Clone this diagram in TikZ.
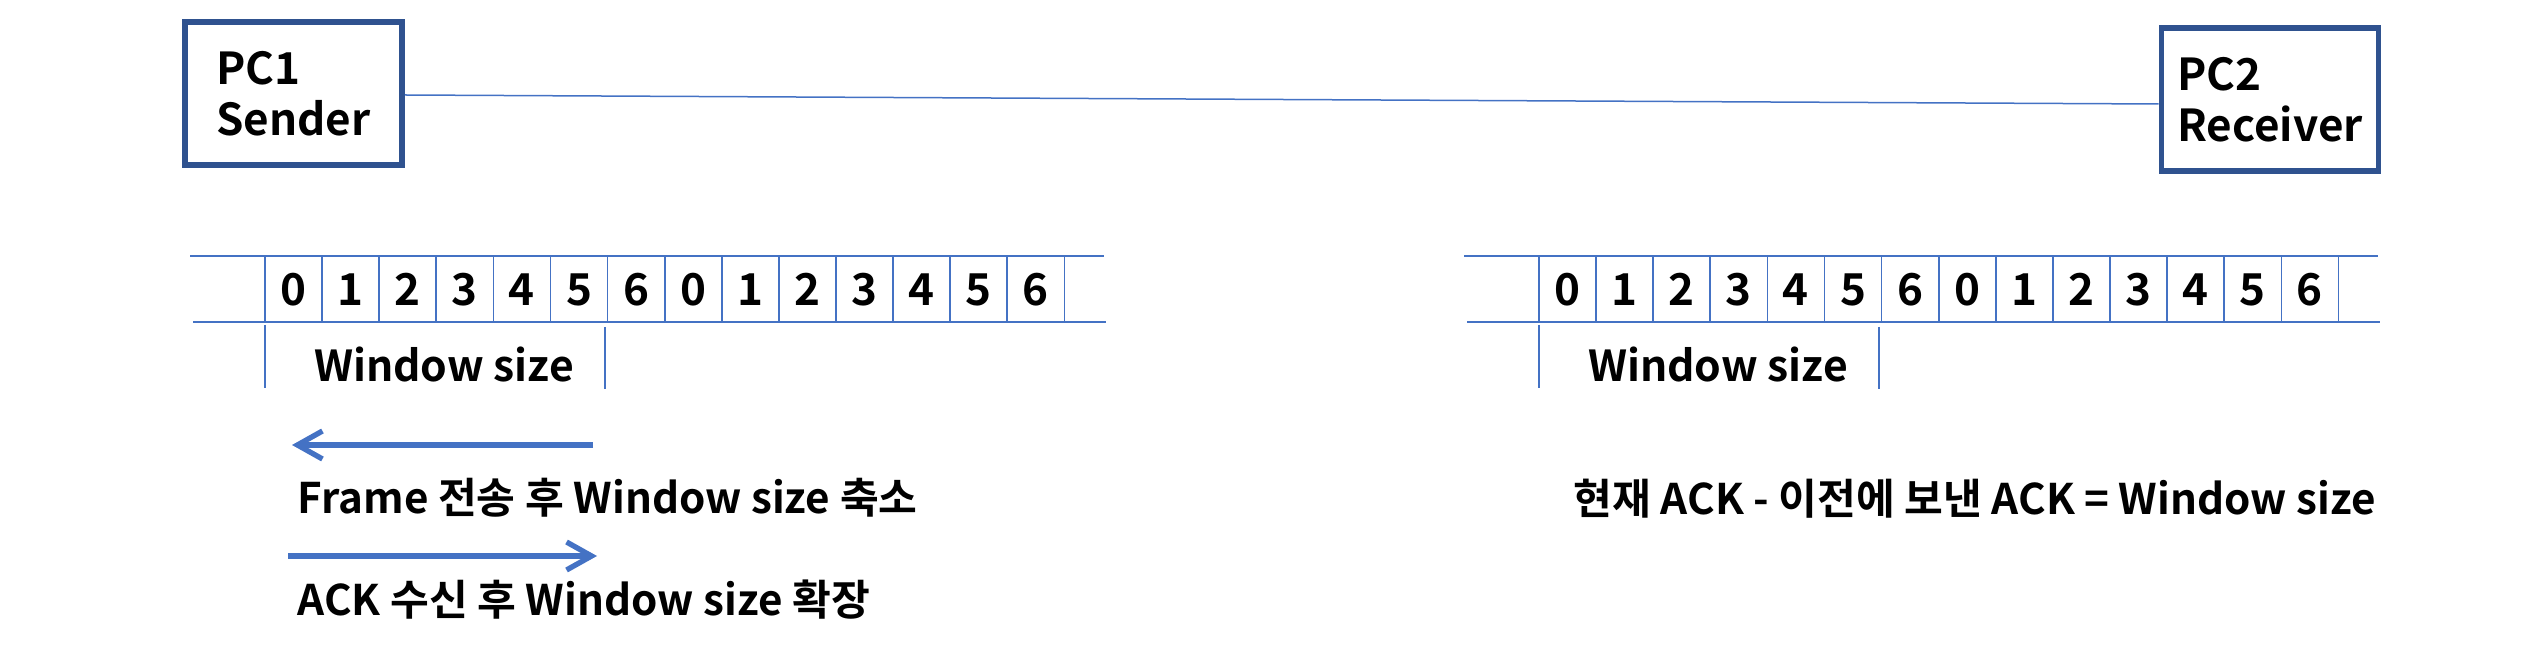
\documentclass[tikz,border=0pt]{standalone}
\usepackage{fontspec}
\setmainfont{Noto Sans CJK KR}[BoldFont={Noto Sans CJK KR Bold}]
\usetikzlibrary{arrows.meta,calc}
\definecolor{boxblue}{RGB}{47,82,143}
\definecolor{lineblue}{RGB}{68,114,196}
\begin{document}
\begin{tikzpicture}[x=0.3pt,y=-0.3pt,
  every node/.style={font=\fontsize{13.2}{15.3}\selectfont\bfseries, inner sep=0pt},
  pcbox/.style={draw=boxblue, line width=1.7pt, minimum width=65.1pt, minimum height=42.9pt, align=left},
  labeltext/.style={font=\fontsize{12.65}{15}\selectfont\bfseries},
  wstext/.style={font=\fontsize{12.8}{15}\selectfont\bfseries},
  gridline/.style={draw=lineblue, line width=0.5pt},
  linkline/.style={draw=lineblue, line width=0.45pt},
  bigarrow/.style={draw=lineblue, line width=1.6pt, -{Straight Barb[length=7.5pt,width=8.4pt]}}
]
\useasboundingbox (0,0) rectangle (2538,668);

\node[pcbox] (pc1) at (293.5,93.5) {PC1\\Sender};
\node[pcbox] (pc2) at (2270,99.5) {PC2\\Receiver};
\draw[linkline] ([yshift=-0.45pt]pc1.east) -- ([yshift=-1.35pt]pc2.west);

\foreach \s/\ox in {L/265, R/1539} {
  \draw[gridline] (\ox-75,256) -- (\ox+839,256);
  \draw[gridline] (\ox-72,322) -- (\ox+841,322);
  \foreach \k in {0,...,14} \draw[gridline] (\ox+\k*57.1,256) -- (\ox+\k*57.1,322);
  \foreach \d [count=\k from 0] in {0,1,2,3,4,5,6,0,1,2,3,4,5,6}
    \node[anchor=base] (\s-d\k) at (\ox+\k*57.1+28.5,306) {\d};
  \draw[gridline] (\ox,325) -- (\ox,388);
  \draw[gridline] (\ox+340,327) -- (\ox+340,389);
  \node[wstext, anchor=base] (\s-ws) at (\ox+179,382) {Window size};
}

\coordinate (a1s) at (593,445);
\coordinate (a1e) at (292,445);
\draw[bigarrow] (a1s) -- (a1e);
\coordinate (a2s) at (288,556);
\coordinate (a2e) at (597,556);
\draw[bigarrow] (a2s) -- (a2e);

\node[labeltext, anchor=base west] (t1) at (297,513) {Frame 전송 후 Window size 축소};
\node[labeltext, anchor=base west] (t2) at (297,615) {ACK 수신 후 Window size 확장};
\node[labeltext, anchor=base west] (t3) at (1573,515) {현재 ACK - 이전에 보낸 ACK = Window size};
\end{tikzpicture}
\end{document}
